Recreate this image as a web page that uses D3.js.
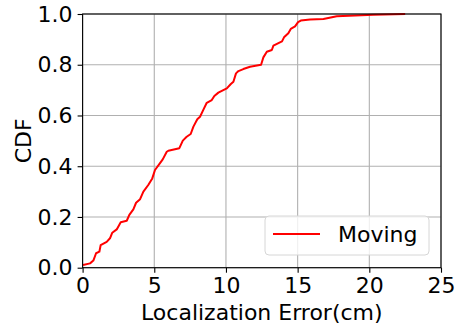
<!DOCTYPE html>
<html>
<head>
<meta charset="utf-8">
<script src="https://cdn.jsdelivr.net/npm/d3@7"></script>
<style>
  body { margin: 0; background: #fff; }
  text { font-family: "DejaVu Sans", sans-serif; fill: #000; }
</style>
</head>
<body>
<svg id="chart" width="456" height="328"></svg>
<script>
// localization error (cm) and its CDF
const errorCm = [0.03, 0.52, 0.75, 0.94, 1.17, 1.26, 1.68, 1.91, 2.07, 2.38, 2.66, 3.08, 3.26, 3.54, 3.73, 4.01,
  4.24, 4.58, 4.86, 5.05, 5.40, 5.59, 5.87, 5.98, 6.75, 6.99, 7.26, 7.54, 7.73, 8.00, 8.19, 8.42, 8.66,
  9.01, 9.19, 9.47, 9.71, 10.06, 10.34, 10.52, 10.70, 10.87, 11.21, 11.68, 12.45, 12.61, 12.85, 13.20,
  13.31, 13.66, 13.91, 14.05, 14.35, 14.52, 14.82, 15.03, 15.22, 15.87, 16.80, 17.73, 20.29, 22.5];
const cdfValues = [0.011, 0.017, 0.028, 0.057, 0.063, 0.089, 0.102, 0.116, 0.138, 0.151, 0.179, 0.185, 0.208,
  0.230, 0.256, 0.270, 0.300, 0.326, 0.352, 0.385, 0.412, 0.427, 0.457, 0.461, 0.471, 0.501, 0.516, 0.527,
  0.556, 0.585, 0.595, 0.622, 0.650, 0.661, 0.677, 0.690, 0.697, 0.707, 0.724, 0.733, 0.766, 0.775, 0.783,
  0.792, 0.800, 0.829, 0.851, 0.858, 0.875, 0.885, 0.892, 0.908, 0.924, 0.941, 0.951, 0.968, 0.974, 0.978,
  0.980, 0.991, 0.997, 1.0];
const xTicks = [0, 5, 10, 15, 20, 25];
const yTicks = [0, 0.2, 0.4, 0.6, 0.8, 1.0];
const seriesName = "Moving";

const svg = d3.select("#chart");
const mLeft = 82.6, mRight = 441, mTop = 14, mBottom = 267.7;
const fontSize = "22px";

const x = d3.scaleLinear().domain([0, 25]).range([mLeft, mRight]);
const y = d3.scaleLinear().domain([0, 1]).range([mBottom, mTop]);

// grid
svg.append("g")
  .selectAll("line")
  .data(xTicks)
  .enter()
  .append("line")
  .attr("x1", d => x(d)).attr("x2", d => x(d))
  .attr("y1", mTop).attr("y2", mBottom)
  .attr("stroke", "#b0b0b0").attr("stroke-width", 1.1);
svg.append("g")
  .selectAll("line")
  .data(yTicks)
  .enter()
  .append("line")
  .attr("x1", mLeft).attr("x2", mRight)
  .attr("y1", d => y(d)).attr("y2", d => y(d))
  .attr("stroke", "#b0b0b0").attr("stroke-width", 1.1);

// curve
const data = errorCm.map((e, i) => ({e: e, c: cdfValues[i]}));
const line = d3.line().x(d => x(d.e)).y(d => y(d.c));
svg.append("path")
  .datum(data)
  .attr("d", line)
  .attr("fill", "none")
  .attr("stroke", "#ff0000")
  .attr("stroke-width", 2)
  .attr("stroke-linejoin", "round");

// axes
const xAxis = svg.append("g")
  .attr("transform", `translate(0,${mBottom})`)
  .call(d3.axisBottom(x).tickValues(xTicks).tickFormat(d3.format("d")).tickSizeOuter(0).tickSize(5).tickPadding(5));
const yAxis = svg.append("g")
  .attr("transform", `translate(${mLeft},0)`)
  .call(d3.axisLeft(y).tickValues(yTicks).tickFormat(d3.format(".1f")).tickSizeOuter(0).tickSize(5).tickPadding(5));
[xAxis, yAxis].forEach(g => {
  g.selectAll("text").style("font-size", fontSize).style("font-family", "DejaVu Sans");
  g.selectAll("line").attr("stroke", "#000").attr("stroke-width", 1.1);
  g.select(".domain").remove();
});

// frame
svg.append("rect")
  .attr("x", mLeft).attr("y", mTop)
  .attr("width", mRight - mLeft).attr("height", mBottom - mTop)
  .attr("fill", "none").attr("stroke", "#000").attr("stroke-width", 1.1);

// labels
svg.append("text")
  .attr("x", (mLeft + mRight) / 2).attr("y", 320)
  .attr("text-anchor", "middle")
  .style("font-size", fontSize)
  .text("Localization Error(cm)");
svg.append("text")
  .attr("transform", `translate(31,${(mTop + mBottom) / 2}) rotate(-90)`)
  .attr("text-anchor", "middle")
  .style("font-size", fontSize)
  .text("CDF");

// legend
const lg = svg.append("g");
lg.append("rect")
  .attr("x", 265).attr("y", 216).attr("width", 164).attr("height", 39)
  .attr("rx", 4)
  .attr("fill", "#fff").attr("fill-opacity", 0.8)
  .attr("stroke", "#d6d6d6").attr("stroke-width", 1);
lg.append("line")
  .attr("x1", 273).attr("x2", 320).attr("y1", 234).attr("y2", 234)
  .attr("stroke", "#ff0000").attr("stroke-width", 2);
lg.append("text")
  .attr("x", 338).attr("y", 242)
  .style("font-size", fontSize)
  .text(seriesName);
</script>
</body>
</html>
